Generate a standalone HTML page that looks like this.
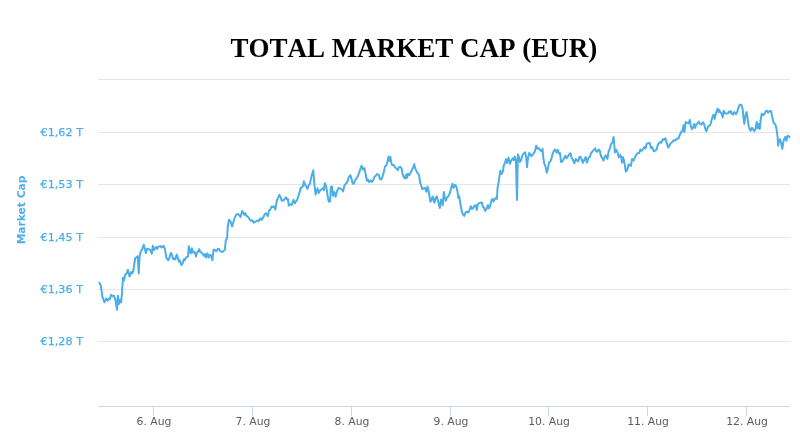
<!DOCTYPE html><html><head><meta charset="utf-8"><title>Total Market Cap (EUR)</title>
<style>html,body{margin:0;padding:0;background:#fff;width:800px;height:446px;overflow:hidden}svg{display:block}
.t{font-family:"Liberation Serif",serif;font-weight:bold;font-size:27px;font-kerning:none;fill:#000}
.yl{font-family:"DejaVu Sans","Liberation Sans",sans-serif;font-size:11.2px;fill:#4caee8;stroke:#4caee8;stroke-width:0.25px}
.xl{font-family:"DejaVu Sans","Liberation Sans",sans-serif;font-size:10.8px;fill:#5c5c5c}
.yt{font-family:"DejaVu Sans","Liberation Sans",sans-serif;font-size:10.7px;font-weight:bold;fill:#4caee8}
</style></head><body>
<svg width="800" height="446" viewBox="0 0 800 446">
<rect width="800" height="446" fill="#ffffff"/>
<text class="t" x="230.5" y="57">TOTAL MARKET CAP (EUR)</text>
<path d="M98 79.5 H790" stroke="#e6e6e6" stroke-width="1" fill="none"/>
<path d="M98 132.5 H790" stroke="#e6e6e6" stroke-width="1" fill="none"/>
<path d="M98 184.5 H790" stroke="#e6e6e6" stroke-width="1" fill="none"/>
<path d="M98 237.5 H790" stroke="#e6e6e6" stroke-width="1" fill="none"/>
<path d="M98 289.5 H790" stroke="#e6e6e6" stroke-width="1" fill="none"/>
<path d="M98 341.5 H790" stroke="#e6e6e6" stroke-width="1" fill="none"/>
<path d="M98 406.5 H790" stroke="#ccd6eb" stroke-width="1" fill="none"/>
<path d="M153.5 406 V416" stroke="#ccd6eb" stroke-width="1" fill="none"/>
<path d="M252.5 406 V416" stroke="#ccd6eb" stroke-width="1" fill="none"/>
<path d="M351.5 406 V416" stroke="#ccd6eb" stroke-width="1" fill="none"/>
<path d="M450.5 406 V416" stroke="#ccd6eb" stroke-width="1" fill="none"/>
<path d="M548.5 406 V416" stroke="#ccd6eb" stroke-width="1" fill="none"/>
<path d="M647.5 406 V416" stroke="#ccd6eb" stroke-width="1" fill="none"/>
<path d="M746.5 406 V416" stroke="#ccd6eb" stroke-width="1" fill="none"/>
<text class="yl" x="83" y="135.5" text-anchor="end">€1,62 T</text>
<text class="yl" x="83" y="187.5" text-anchor="end">€1,53 T</text>
<text class="yl" x="83" y="240.5" text-anchor="end">€1,45 T</text>
<text class="yl" x="83" y="292.5" text-anchor="end">€1,36 T</text>
<text class="yl" x="83" y="344.5" text-anchor="end">€1,28 T</text>
<text class="xl" x="154.0" y="425" text-anchor="middle">6. Aug</text>
<text class="xl" x="253.0" y="425" text-anchor="middle">7. Aug</text>
<text class="xl" x="352.0" y="425" text-anchor="middle">8. Aug</text>
<text class="xl" x="451.0" y="425" text-anchor="middle">9. Aug</text>
<text class="xl" x="549.0" y="425" text-anchor="middle">10. Aug</text>
<text class="xl" x="648.0" y="425" text-anchor="middle">11. Aug</text>
<text class="xl" x="747.0" y="425" text-anchor="middle">12. Aug</text>
<text class="yt" transform="translate(24.5,210) rotate(-90)" text-anchor="middle">Market Cap</text>
<path d="M99.4 282.7 L100.7 285.2 L102.5 297.2 L104.4 302.2 L106.3 298.4 L107.6 300.7 L108.8 298.7 L109.8 299.2 L111 294.9 L112.6 296.2 L113.8 295.7 L115.4 299.7 L117 309.7 L117.9 295.7 L118.9 304.1 L120.1 299.7 L121.1 302.5 L122 293.4 L122.9 277.7 L123.9 280.8 L125.2 274.6 L126.4 273.9 L127.9 269.8 L129.5 276.4 L131.2 272.1 L132.2 273.3 L133.3 271 L135.2 257.9 L136.5 257.4 L137.7 256.2 L138.7 273.4 L139.6 256.4 L140.5 252 L142.1 249.5 L143.7 244.8 L144.7 248.2 L145.9 253.3 L147.1 248.6 L149.3 249.5 L150.3 250.1 L151.8 253.6 L152.8 245.7 L153.8 250.1 L155.1 248.2 L156.2 247 L157.2 248.9 L158.4 246.6 L160.3 246.1 L161.6 247.6 L163.5 245.7 L164.7 248.2 L166.4 257.9 L168.1 260.2 L169.4 257.9 L170.8 252.9 L171.9 254.5 L173.1 259.2 L174.4 258.3 L175.4 259.5 L176.7 254.5 L177.9 257.9 L178.9 261.7 L179.8 260.2 L181.4 265.2 L182.7 263.3 L183.9 259.2 L184.8 260.2 L185.7 257.9 L188 256.4 L188.8 246.2 L189.8 250.2 L190.7 253.4 L191.9 248.3 L192.8 252.5 L194 251.7 L195.1 253.4 L196.1 256.5 L196.9 252.5 L198.2 251.5 L199.2 249.2 L200.3 252.1 L202 252.7 L203.2 254.6 L204.1 255.9 L205.1 254 L206.1 257.5 L207.4 253.4 L208.6 257.5 L209.5 255.3 L210.8 255 L211.8 258.4 L212.4 260.3 L213.6 249.6 L215.2 250.2 L216.4 251.2 L217.9 248.7 L219.2 249.2 L220.4 251.2 L222.1 252.1 L223.3 251.2 L224.9 249.6 L225.8 240.2 L227.1 238.3 L227.7 227 L229 219.8 L230.2 220.7 L232.1 226.4 L233.4 222 L234.6 218.2 L236.3 214.4 L237.8 214 L239.3 215.3 L240.5 216.9 L242.2 211 L243.4 212.8 L244.3 214.8 L245.3 213.2 L246.6 216.1 L247.8 216.6 L249.3 218.8 L250.6 220.7 L252.2 220.3 L253.5 222.6 L254.7 222 L256 221.3 L257.2 220.7 L258.1 220.3 L259.1 221.1 L260.4 218.2 L261.9 219.8 L263.1 217.8 L264.8 214 L266 213.2 L267.9 216.1 L268.9 210.7 L270.2 209.8 L271.5 206.5 L272.8 207.1 L273.8 206.2 L275.3 209.6 L276.9 200.2 L277.8 198.7 L279.4 194.9 L280.7 197.4 L281.9 200.8 L283.6 200.2 L284.8 198.9 L285.7 197.4 L287 199.2 L287.8 198.7 L288.8 205.5 L290.4 204.2 L291.6 204.9 L292.6 202.7 L293.6 199.9 L294.9 203.3 L295.8 201.4 L297 200.4 L298.9 194.5 L300.8 187.9 L302.7 186.6 L303.9 181.3 L305.2 185.1 L306.4 186.6 L307.4 188.9 L308.9 184.8 L309.9 183.8 L311.5 176.1 L313.3 170.3 L314.6 186.4 L315.6 194.5 L317.5 188.2 L318.7 192.9 L320.3 190.1 L321.5 189.5 L322.8 188.2 L323.8 190.1 L324.9 183.2 L326.3 187 L327.5 195.2 L328.8 201.7 L330.1 201.4 L330.9 187 L331.9 186.4 L333.1 195.8 L334.3 192 L335.6 196.7 L337.2 190.8 L338.8 187.9 L340.4 188.6 L341.9 189.5 L343.1 191.4 L344.4 185.7 L346 183.2 L347.3 182 L348.9 176.9 L350.4 175.3 L351.7 179.4 L352.7 183.8 L353.9 183.6 L355.2 180.1 L356.7 178.2 L357.9 176.3 L360 170.1 L361.5 165.7 L363.1 169.5 L364.4 168.2 L365.7 174.5 L366.9 180.8 L367.8 179.5 L369 182 L370.7 180.4 L371.9 182 L373.2 180.2 L374.4 177 L375.7 175.8 L377 174.1 L378.8 174.9 L380.1 179.1 L381.4 179.5 L382.6 176.4 L383.9 171.4 L385.1 166.3 L386.6 165.1 L387.9 159.4 L388.6 156.5 L389.5 161.1 L390.4 156.9 L391.4 163.6 L392.7 165.3 L393.9 165.1 L395.2 167.6 L396.7 168.6 L397.7 170.1 L398.9 167.3 L400.2 166.6 L401.7 168.6 L402.7 174.5 L404 177.6 L405.2 178.6 L406.2 174.5 L407.1 177.9 L408 173.6 L409.2 175.1 L410.5 173.2 L412.1 169.5 L413.4 167 L414.3 164.1 L415.3 168.8 L416.5 171.1 L417.5 172.9 L419 174.9 L420.1 182.7 L421.3 185.8 L422.2 189.2 L423.8 188.3 L425.1 187.9 L426.3 191.7 L427.5 186.4 L428.8 192 L430.3 201.7 L431.5 200.8 L432.5 196.4 L433.5 198.7 L434.4 202.7 L435.7 197.9 L436.9 196.4 L438.2 201.4 L439.8 208 L441.1 199.5 L442 202.7 L442.8 205.2 L443.8 192 L444.8 197.7 L445.7 200.8 L447 197.4 L448.2 196.4 L449.5 194.1 L450.8 189.5 L452.4 183.8 L453.6 187.9 L455.2 184.8 L456.4 187 L457.4 190.8 L458.3 197.9 L459.2 196.4 L460.2 202.7 L461.4 209.6 L462.7 214 L464.2 215.9 L465.5 212.7 L467.1 211.7 L468.3 212.5 L469.6 209.6 L470.9 206.2 L472.1 209 L473.4 207.7 L474.6 205.5 L475.9 205.2 L476.8 210 L477.8 204.2 L479 203.3 L480.3 202.7 L481.8 202.4 L482.8 206.5 L484 207.7 L485.1 210.9 L486.6 209 L487.8 205.2 L489.1 208.3 L490.3 205.2 L491.6 199.9 L492.6 198.9 L493.5 201.4 L494.7 199.2 L496 197.9 L496.9 198.9 L497.6 187.6 L498.9 180.7 L500.3 170.8 L501.5 174 L502.8 171.5 L503.8 165.4 L505.1 162.4 L506.1 159.1 L506.9 162.9 L508.6 157.6 L509.8 163.9 L511.1 160.8 L512.6 158.3 L513.8 160.2 L514.8 156.6 L515.9 160.2 L517 200 L517.9 154.5 L518.9 157 L519.9 162 L521.1 160.2 L522 156.4 L523.3 153.9 L525.2 152.4 L526.2 157 L527 167.1 L527.9 158.9 L529.2 152.9 L531.4 156.1 L533.3 153.9 L534.9 151.4 L536.2 145.7 L537.5 148.8 L538.7 148.2 L540.2 150.1 L541.5 151.4 L542.5 148.8 L543.4 158.3 L544.2 163.3 L545.5 166.4 L546.8 172.7 L547.8 168.9 L549 162.9 L550.3 161.4 L551.5 158.3 L552.8 153.2 L554 150.7 L555.1 149.5 L556.6 152.6 L557.8 149.8 L559.1 153.6 L560.1 153.2 L561 162 L562.2 161.4 L563.1 160.2 L564.1 157.9 L565.4 155.8 L566.4 158.3 L567.6 157 L569.1 154.5 L570.4 153.2 L571.6 157.6 L572.9 159.9 L574.4 163.3 L575.7 158.9 L576.9 160.2 L578.2 161.4 L579.4 157 L580.7 157 L581.9 160.2 L582.9 162.9 L584.4 159.5 L585.7 157 L586.9 162.7 L588.5 157.7 L589.8 157.1 L591 153.3 L592.5 151.4 L593.8 149.9 L595.1 148.3 L596.3 151.4 L597.3 151.7 L598.6 149.5 L599.8 150.8 L601.1 156.4 L602.3 158.3 L603.6 160.5 L604.8 156.4 L605.7 155.4 L607.4 158.9 L608.6 151.4 L609.9 148.3 L611.1 144.1 L612.4 142.4 L613.6 137 L614.9 152.4 L616.4 149.9 L617.7 152.9 L618.9 157.4 L620.2 154.9 L621.2 157.1 L622.1 162.7 L622.9 157.1 L624.2 161.2 L625.8 171.5 L627.1 170.3 L628.7 164.2 L630.9 165.9 L632.1 158.9 L633.7 160.5 L635.3 156.4 L636.8 153.9 L638 152.9 L639.3 152.9 L640.3 149.5 L641.5 150.8 L643 149.5 L644.3 147 L645.6 148.3 L646.6 144.1 L647.8 143.2 L649.7 142.9 L651 148.3 L652.2 147 L653.8 151.4 L655.4 150.4 L656.6 149.5 L657.9 144.5 L659.1 143.2 L660.1 142 L661.4 142.6 L662.9 139.1 L664.1 139.8 L665.4 138.2 L666.7 142.6 L668.2 147.6 L669.4 145.8 L670.7 143.2 L672.3 142 L673.9 140.1 L675.2 140.7 L676.5 138.8 L677.7 138.8 L678.6 138.2 L679.8 134.8 L681.3 131.7 L682.5 130.8 L683.5 125.2 L684.4 132.1 L685.7 122 L687.3 122.9 L688.6 123.3 L689.8 119.9 L690.7 125.8 L692 129.2 L693.2 127 L694.1 124.1 L695.1 127.9 L696.4 124.1 L697.6 123.3 L698.9 121.6 L700.1 124.1 L701.4 124.5 L702.9 122.4 L704.1 124.1 L705.4 129.2 L706.4 131.4 L707.7 127.4 L708.9 125.8 L710.2 125.2 L711.4 120.8 L712.7 116.4 L713.7 114.5 L714.6 118.9 L715.8 113.8 L717.5 108.6 L718.3 112 L719.2 109.8 L720.5 112.6 L721.7 113.6 L722.7 117.4 L723.7 110.7 L725 113.2 L726.5 113.6 L727.8 113.6 L729 111.6 L730 112.6 L730.9 111.1 L731.8 113.8 L733 114.5 L734.3 112 L735.9 114.1 L737.2 112 L738.4 107.6 L739.7 104.8 L741.3 104.8 L742.6 108.8 L743.5 117.6 L744.3 123.9 L745.6 115.1 L746.6 112 L747.6 118.2 L748.5 125.2 L749.7 129.2 L750.6 130.8 L751.9 127.9 L753.1 129.5 L754.4 131.2 L755.7 127.9 L756.7 122 L757.7 128.3 L758.5 124.1 L759.8 128.9 L760.7 119.5 L761.7 113.8 L762.9 115.1 L764.4 114.1 L765.7 111.1 L767 110.7 L768.2 112.6 L769.5 111.1 L771.1 111.1 L772.2 116.8 L773.5 122.5 L775.4 124.6 L776.6 129.4 L777.6 136.9 L778.1 145.7 L779.1 140.1 L780.2 139.2 L781.4 144.5 L782.3 148.9 L783.5 141.3 L784.4 138.5 L785.4 136.9 L786.4 140.7 L787.3 136.3 L788.3 135.7 L789.4 137.2" stroke="#4caee8" stroke-width="2" fill="none" stroke-linejoin="round" stroke-linecap="round"/>
</svg></body></html>
